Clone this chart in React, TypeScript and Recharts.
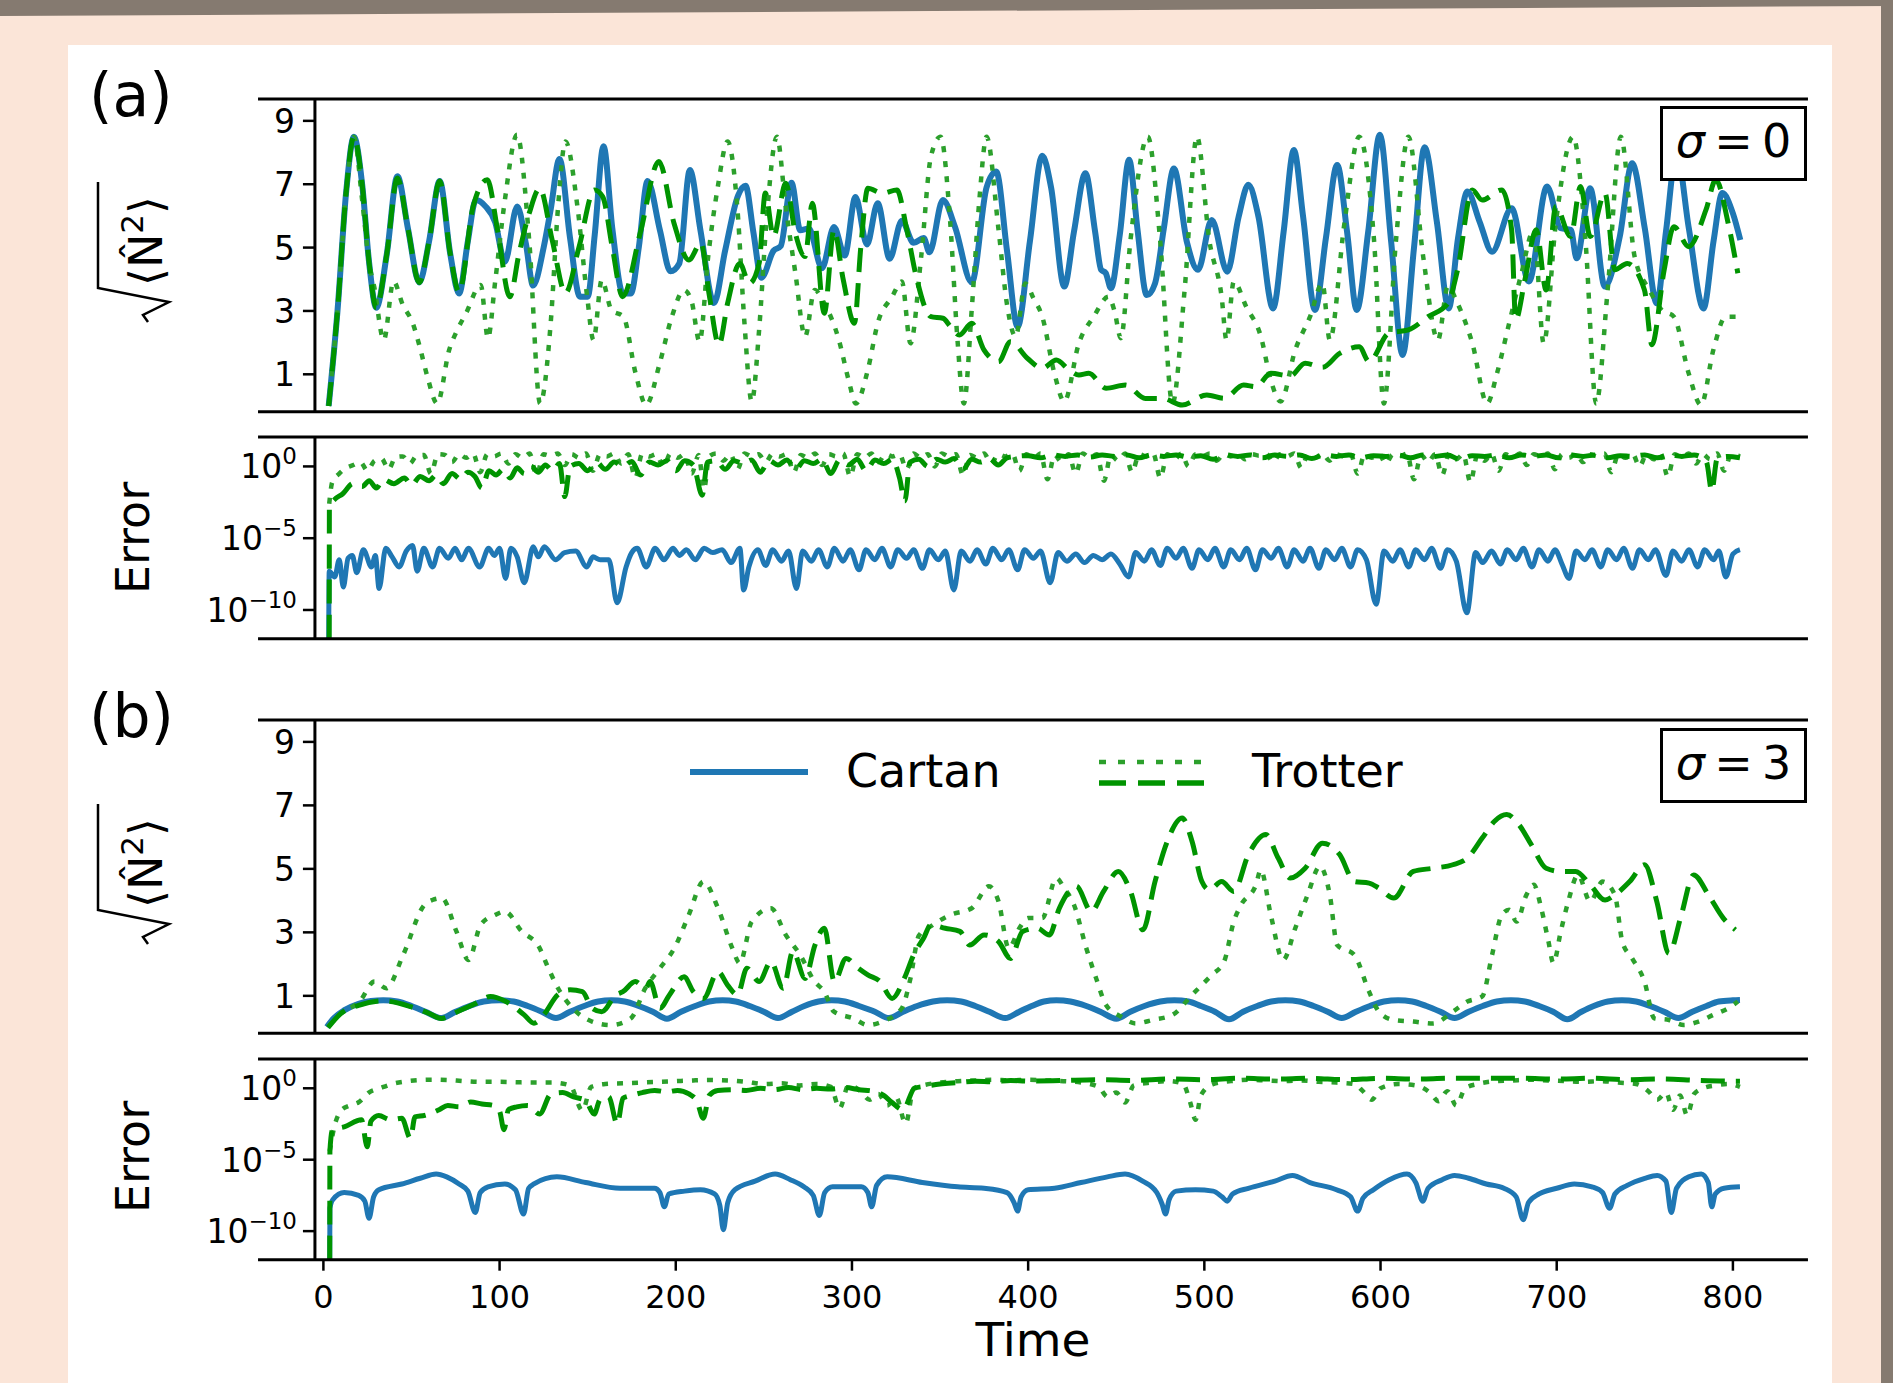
import React from "react";
import { LineChart, Line, XAxis, YAxis, ReferenceLine, Legend } from "recharts";

// ---- data: [time, value] pairs ----
// (a) sigma = 0, sqrt(<N^2>)
const cartanA = [[3,0.0],[8,3.0],[13,6.8],[17.3,8.5],[22,7.0],[26,4.5],[30,3.1],[36,4.8],[42,7.25],[48,5.6],[54.4,3.9],[60,5.2],[66,7.1],[72,4.8],[77,3.55],[82,5.2],[86.5,6.5],[92,6.3],[97.5,5.8],[103,4.55],[110,6.3],[115,5.1],[119,3.8],[125,5.0],[129,6.2],[134,7.8],[140,5.3],[145.6,3.45],[150,3.45],[154,5.4],[159,8.2],[164,5.6],[170,3.55],[174.5,3.55],[179,5.0],[184,7.1],[191,5.55],[197,4.25],[202,4.5],[208,7.45],[214,5.55],[221.7,3.25],[228,4.9],[235.4,6.65],[239.6,6.95],[244,5.5],[248.6,4.05],[255.5,4.9],[259.6,5.05],[265.7,7.05],[270.6,5.55],[275.5,5.6],[283,4.35],[289.8,5.65],[295.9,4.75],[302,6.6],[308.5,5.1],[314.6,6.4],[321.4,4.65],[328.3,5.85],[335,5.15],[340.7,5.3],[344,4.85],[351.6,6.5],[358.5,5.65],[368,3.9],[376.4,6.9],[381.9,7.4],[388,4.9],[394,2.5],[401,5.2],[408,7.9],[413,6.9],[420.5,3.77],[426,5.5],[432.5,7.35],[438,5.5],[441.4,4.3],[444,4.2],[447,3.72],[452,5.4],[457.3,7.77],[462,5.6],[467.3,3.5],[472,3.87],[477,5.6],[482.7,7.5],[490.2,5.15],[496.4,4.3],[504.2,5.87],[513,4.24],[519.5,5.98],[525,6.98],[530.7,5.98],[539,3.08],[545,5.5],[550.8,8.08],[556,6.0],[562.8,3.03],[569,5.3],[575.4,7.61],[581,5.5],[586.5,3.03],[593,5.5],[599.6,8.56],[606,5.2],[612.5,1.61],[619,5.0],[625,8.17],[632,5.8],[638.7,3.08],[644,5.3],[649.3,6.77],[656.2,5.82],[663.3,4.87],[674.4,6.24],[684.2,3.93],[694.5,6.93],[702.3,5.61],[708,5.56],[711.3,4.66],[719,6.87],[727.3,3.77],[735.8,5.35],[742.8,7.66],[750,5.6],[756.8,3.24],[762,5.5],[768,8.0],[775,5.6],[783.3,3.08],[789,5.2],[794,6.72],[800,6.08],[804.2,5.24]];
const trotterDotA = [[3,0.0],[8,3.0],[13,6.8],[17.3,8.5],[22,6.5],[26,4.5],[28.8,3.77],[34.3,2.08],[39.8,3.93],[45,3.2],[50.8,2.6],[55,1.8],[59,0.93],[64.6,0.08],[71.4,1.77],[76,2.4],[81,2.93],[89.3,3.82],[93.4,2.14],[97.5,3.93],[103,6.5],[109.9,8.56],[116.8,5.24],[123,0.08],[129,2.61],[133.2,6.29],[137.4,8.35],[144.2,6.29],[149.7,3.45],[153.3,2.08],[158,3.98],[163.5,3.03],[170.3,2.82],[177.2,1.03],[183.2,0.03],[190.9,1.35],[197.8,2.82],[204.7,3.66],[209,3.3],[213.5,2.03],[218.4,4.72],[223.9,6.93],[229.4,8.35],[234.9,6.29],[239,2.61],[243.1,0.14],[247.3,2.4],[251.4,5.77],[257.4,8.5],[262.4,6.29],[267.9,4.19],[273.4,2.19],[278.8,3.66],[284.3,3.24],[292.6,2.08],[298.1,0.82],[302.2,0.08],[309,1.14],[314.6,2.61],[322.8,3.45],[328.3,3.93],[333.2,1.98],[339.3,4.72],[344.8,7.87],[350.3,8.5],[355.8,5.77],[359.9,2.08],[363.5,0.08],[368.1,3.14],[372.3,6.5],[376.4,8.5],[383.2,5.56],[388,3.2],[392.9,2.19],[398.4,3.87],[403,3.4],[408,2.82],[414.9,1.03],[420.5,0.14],[428.8,1.98],[437.2,2.82],[445.6,3.45],[449,3.0],[452.6,2.14],[458.1,5.24],[467.9,8.5],[474.9,5.24],[481.9,0.08],[488.8,3.66],[495.8,8.5],[502.8,5.24],[509.8,3.45],[512.6,2.08],[516.7,3.93],[523.7,3.14],[532.1,2.19],[537.7,0.82],[543.3,0.14],[551.6,1.77],[560,2.82],[567,3.87],[571.2,2.08],[579.5,5.77],[587.9,8.5],[596.3,5.24],[601.9,0.08],[608.8,5.24],[615.8,8.5],[624.2,4.72],[632.6,2.08],[638.2,3.77],[643.7,3.24],[652.1,1.98],[660.5,0.08],[666.1,1.03],[673,2.61],[680,4.19],[687,5.56],[692.6,1.98],[699.5,5.77],[709.3,8.5],[716.3,5.24],[722.4,0.08],[728.9,3.66],[736.4,8.5],[744.2,4.72],[752.6,3.66],[759.6,3.03],[766.5,2.82],[774.9,1.03],[781.9,0.03],[788.9,1.77],[795.9,2.82],[802.8,2.82]];
const trotterDashA = [[3,0.0],[8,3.0],[13,6.8],[17.3,8.5],[22,7.0],[26,4.5],[30,3.1],[36,4.8],[42,7.2],[48,5.6],[54.4,3.9],[60,5.2],[66,7.1],[72,4.8],[77,3.6],[85,6.3],[93,7.14],[99,5.5],[105.8,3.45],[111,4.8],[116.8,6.08],[122.8,6.87],[130,5.2],[137.4,3.56],[145,5.0],[153.8,6.82],[158.5,6.61],[164,5.0],[169.8,3.45],[180,5.5],[190.4,7.72],[199,5.77],[207.4,4.61],[214.3,5.14],[219,3.5],[224.5,1.93],[229.4,3.24],[236.3,4.5],[241.8,3.87],[247.3,4.5],[250.8,6.72],[255.5,5.35],[262.4,7.03],[267.9,5.45],[273.4,4.72],[277.5,6.4],[284.3,2.93],[289.8,5.56],[295,4.0],[301.4,2.61],[305,5.0],[309,6.87],[317.3,6.72],[325.5,6.82],[331,5.6],[336.5,4.08],[344.8,2.82],[351.6,2.77],[356,2.5],[361,2.24],[368,2.61],[374.9,1.77],[383.2,1.4],[390,2.03],[399.7,1.5],[408,1.19],[416,1.45],[423.2,1.14],[428.8,0.98],[434.4,1.03],[444.2,0.56],[455.3,0.66],[466.5,0.24],[476.3,0.24],[487.4,0.03],[501.4,0.35],[511.2,0.24],[522.3,0.66],[529.3,0.61],[537.7,1.03],[548.8,0.95],[557.2,1.35],[567,1.22],[576.8,1.66],[587.9,1.87],[593.5,1.4],[604.7,2.3],[615.8,2.4],[627,2.82],[638.2,3.24],[643.7,4.29],[652.1,6.82],[657.7,6.5],[668.8,6.82],[674.4,5.56],[676.7,2.72],[682,4.0],[688.4,5.56],[694,3.66],[699.5,6.3],[707.9,5.35],[713.5,6.93],[719,5.35],[727.4,6.72],[733,4.3],[740,4.5],[749.8,3.66],[754,1.93],[761,4.3],[766.5,5.66],[774.9,5.03],[784.7,6.19],[790.3,7.14],[797.3,5.77],[802.8,4.19]];

// (a) error, stored as log10 exponents
const cartanErrA = [[3,-12],[3.3,-7.3],[6.4,-7.7],[9,-6.5],[11.3,-8.4],[14,-6.4],[16.4,-6.2],[18.9,-7.4],[22.7,-5.8],[27.3,-7.0],[29.5,-6.2],[31.6,-8.5],[35.4,-5.7],[39,-6.3],[43,-7.0],[47,-5.9],[50.6,-5.5],[53.2,-7.3],[57,-5.7],[62,-7.0],[65.9,-5.7],[70.9,-6.4],[74.7,-5.7],[78.5,-6.5],[82.3,-5.7],[88.7,-7.0],[93.8,-5.7],[97,-6.2],[100,-5.7],[103.4,-7.8],[106.4,-5.7],[110,-6.3],[114,-8.1],[119.1,-5.6],[122,-6.3],[125.4,-5.6],[131.8,-6.5],[136.9,-6.0],[143.2,-5.9],[149.5,-7.0],[153,-6.3],[157.1,-6.5],[162,-6.5],[166.7,-9.5],[171.8,-7.0],[175,-6.0],[178.1,-5.7],[183.2,-7.0],[188.3,-5.7],[193.3,-6.5],[198.4,-5.7],[202,-6.2],[206,-5.8],[211.1,-6.5],[216.1,-5.7],[221,-6.0],[226.3,-5.8],[231.4,-6.7],[236.4,-5.7],[238.5,-8.6],[241.5,-7.0],[246.6,-5.8],[251,-6.9],[255,-5.8],[260,-6.6],[264,-5.9],[268.5,-8.5],[272,-5.9],[277,-6.6],[281,-5.8],[286,-7.0],[290,-5.7],[295,-6.6],[299,-5.8],[304,-7.2],[308,-5.8],[313,-6.5],[317,-5.7],[322,-7.0],[326,-5.8],[331,-6.4],[335,-5.8],[340,-7.1],[344,-5.8],[349,-6.5],[353,-5.9],[357.8,-8.6],[362,-5.9],[367,-6.6],[371,-5.8],[376,-6.8],[380,-5.7],[385,-6.5],[389,-5.8],[394,-7.2],[398,-5.8],[403,-6.4],[407,-5.9],[412.5,-8.1],[417,-6.0],[422,-6.6],[427,-6.1],[432,-6.7],[437,-6.2],[442,-6.5],[447,-6.1],[452,-6.8],[457,-7.7],[461,-6.0],[466,-6.6],[470,-5.8],[475,-6.9],[479,-5.7],[484,-6.4],[488,-5.7],[493,-7.1],[497,-5.8],[502,-6.5],[506,-5.7],[511,-7.0],[515,-5.8],[520,-6.5],[524,-5.7],[529,-7.2],[533,-5.8],[538,-6.4],[542,-5.7],[547,-7.0],[551,-5.8],[556,-6.6],[560,-5.7],[565,-7.1],[569,-5.8],[574,-6.5],[578,-5.7],[583,-7.0],[587,-5.8],[592,-6.5],[597.5,-9.6],[602,-5.9],[607,-6.6],[611,-5.8],[616,-7.0],[620,-5.8],[625,-6.5],[629,-5.7],[634,-7.1],[638,-5.8],[643,-6.6],[649,-10.2],[654,-6.0],[658,-6.7],[663,-5.9],[668,-6.8],[672,-5.8],[677,-6.5],[681,-5.7],[686,-7.0],[690,-5.8],[695,-6.6],[699,-5.8],[703,-6.8],[707,-7.8],[711,-5.9],[716,-6.5],[720,-5.8],[725,-7.0],[729,-5.8],[734,-6.5],[738,-5.7],[743,-7.1],[747,-5.8],[752,-6.5],[756,-5.8],[762,-7.6],[766,-5.9],[771,-6.6],[775,-5.8],[780,-7.0],[784,-5.8],[789,-6.5],[792,-5.9],[796,-7.7],[800,-6.1],[804,-5.8]];
const trotterDotErrA = [[3.3,-2.6],[5,-1.1],[9,-0.5],[13,-0.1],[17,0.1],[21,0.3],[25,-0.3],[29,0.4],[33,0.55],[37,-0.2],[41,0.65],[45,0.7],[49,0.2],[53,0.75],[57,0.8],[61,-0.5],[65,0.85],[69,0.8],[73,0.3],[77,0.85],[81,0.6],[85,0.9],[89,-0.4],[93,0.85],[97,0.7],[101,0.9],[105,0.2],[109,0.85],[113,0.6],[117,0.9],[121,-0.6],[125,0.85],[129,0.75],[133,0.9],[137,0.1],[141,0.85],[145,0.6],[149,0.9],[153,-0.3],[157,0.85],[161,0.7],[165,0.9],[169,0.2],[173,0.85],[177,-0.8],[181,0.9],[185,0.7],[189,0.85],[193,0.0],[197,0.9],[201,0.6],[205,0.85],[209,-0.5],[213,0.8],[216,-1.6],[219,0.7],[223,0.9],[227,0.4],[231,0.85],[235,-0.2],[239,0.9],[243,0.7],[247,0.85],[251,0.3],[255,0.9],[259,0.7],[263,0.85],[267,-0.4],[271,0.8],[275,0.6],[279,0.9],[283,0.1],[287,0.85],[291,0.7],[295,0.9],[299,-0.7],[303,0.85],[307,0.6],[311,0.9],[315,0.3],[319,0.85],[323,0.7],[327,0.85],[331,-0.2],[335,0.9],[339,0.6],[343,0.85],[347,0.0],[351,0.9],[355,0.7],[359,0.85],[363,-0.6],[367,0.8],[371,0.6],[375,0.9],[379,0.2],[383,0.85],[387,0.7],[391,0.9],[395,-0.3],[399,0.85],[403,0.5],[407,0.9],[411,-0.9],[415,0.8],[419,0.3],[423,0.85],[427,-0.5],[431,0.9],[435,0.6],[439,0.85],[443,-1.0],[447,0.8],[451,0.4],[455,0.9],[459,-0.4],[463,0.85],[467,0.7],[471,0.9],[475,-0.8],[479,0.85],[483,0.5],[487,0.9],[491,0.0],[495,0.85],[499,0.7],[503,0.9],[507,0.4],[511,0.85],[515,0.7],[519,0.9],[523,0.5],[527,0.85],[531,0.75],[535,0.9],[539,0.3],[543,0.85],[547,0.7],[551,0.9],[555,-0.1],[559,0.85],[563,0.6],[567,0.9],[571,0.4],[575,0.85],[579,0.7],[583,0.9],[587,-0.5],[591,0.85],[595,0.6],[599,0.9],[603,0.2],[607,0.85],[611,0.7],[615,0.9],[619,-0.9],[623,0.8],[627,0.3],[631,0.85],[635,-0.6],[639,0.9],[643,0.5],[647,0.85],[651,-1.1],[655,0.8],[659,0.4],[663,0.9],[667,-0.3],[671,0.85],[675,0.6],[679,0.9],[683,0.1],[687,0.85],[691,0.7],[695,0.9],[699,-0.2],[703,0.85],[707,0.6],[711,0.9],[715,0.3],[719,0.85],[723,0.7],[727,0.9],[731,-0.4],[735,0.85],[739,0.6],[743,0.9],[747,0.0],[751,0.85],[755,0.5],[759,0.9],[763,-0.7],[767,0.85],[771,0.6],[775,0.9],[779,0.2],[783,0.85],[787,0.5],[791,0.9],[795,-0.3],[799,0.85],[804,0.7]];
const trotterDashErrA = [[3.3,-12],[3.4,-2.8],[6.4,-2.3],[11,-1.9],[16.8,-1.2],[22,-1.4],[26,-1.0],[30,-1.5],[34,-0.9],[40,-1.2],[46,-0.8],[50,-1.3],[55,-0.7],[60,-1.0],[64,-0.6],[68,-1.2],[73,-0.5],[78,-0.9],[82,-0.4],[86,-0.7],[90,-1.5],[94,-0.3],[98,-0.6],[102,-0.2],[106,-0.8],[110,-0.1],[114,-0.5],[118,0.0],[122,-0.4],[126,0.1],[130,-0.3],[134,0.2],[137,-2.1],[140,0.0],[145,0.2],[150,-0.3],[155,0.3],[160,-0.2],[165,0.3],[170,0.0],[175,0.35],[180,-0.6],[185,0.3],[190,0.1],[195,0.4],[200,-0.3],[205,0.4],[210,0.1],[215,-2.0],[218,0.3],[223,0.4],[228,-0.2],[233,0.4],[238,0.2],[243,0.45],[248,-0.4],[253,0.4],[258,0.1],[263,0.45],[268,-0.2],[273,0.4],[278,0.2],[283,0.5],[288,-0.5],[293,0.45],[298,0.1],[303,0.5],[308,-0.3],[313,0.45],[318,0.2],[323,0.5],[327,-0.8],[330,-2.4],[333,0.3],[338,0.5],[343,0.0],[348,0.5],[353,0.3],[358,0.55],[363,-0.2],[368,0.5],[373,0.3],[378,0.55],[383,0.1],[388,0.6],[393,0.7],[400,0.75],[407,0.6],[414,0.8],[421,0.7],[428,0.8],[435,0.65],[442,0.8],[449,0.7],[456,0.8],[463,0.6],[470,0.8],[477,0.7],[484,0.8],[491,0.65],[498,0.75],[505,0.5],[512,0.8],[519,0.7],[526,0.8],[533,0.6],[540,0.8],[547,0.7],[554,0.8],[561,0.55],[568,0.8],[575,0.7],[582,0.8],[589,0.6],[596,0.75],[603,0.7],[610,0.8],[617,0.6],[624,0.8],[631,0.7],[638,0.8],[645,0.5],[652,0.75],[659,0.7],[666,0.8],[673,0.6],[680,0.8],[687,0.7],[694,0.8],[701,0.6],[708,0.8],[715,0.7],[722,0.8],[729,0.6],[736,0.75],[743,0.7],[750,0.8],[757,0.6],[764,0.8],[771,0.7],[778,0.8],[785,0.3],[788,-1.7],[791,0.5],[797,0.7],[804,0.6]];

// (b) sigma = 3, sqrt(<N^2>)
const cartanB = [[2,0.02],[6,0.3],[12,0.55],[20,0.75],[27,0.84],[34,0.86],[42,0.82],[50,0.68],[58,0.5],[67,0.3],[75,0.5],[83,0.68],[91,0.82],[100,0.86],[108,0.82],[116,0.68],[124,0.5],[132,0.3],[140,0.5],[148,0.68],[156,0.82],[163.5,0.86],[171,0.82],[179,0.68],[187,0.5],[195,0.28],[203,0.5],[211,0.68],[219,0.82],[226.6,0.86],[234,0.82],[242,0.68],[250,0.5],[258,0.3],[266,0.5],[273,0.68],[281,0.82],[288.5,0.86],[296,0.82],[304,0.68],[313,0.5],[321,0.3],[329,0.5],[337,0.68],[346,0.82],[354,0.86],[362,0.82],[370,0.68],[378,0.5],[387,0.3],[395,0.5],[402,0.68],[409,0.82],[416,0.86],[424,0.82],[433,0.68],[441,0.5],[450,0.28],[458,0.5],[466,0.68],[475,0.82],[483,0.86],[491,0.82],[498,0.68],[506,0.5],[514,0.26],[522,0.5],[530,0.68],[538,0.82],[546,0.86],[554,0.82],[562,0.68],[570,0.5],[578,0.3],[586,0.5],[594,0.68],[602,0.82],[610,0.86],[618,0.82],[626,0.68],[634,0.5],[642,0.3],[650,0.5],[658,0.68],[666,0.82],[674,0.86],[682,0.82],[690,0.68],[698,0.5],[706,0.26],[714,0.5],[721,0.68],[729,0.82],[737,0.86],[745,0.82],[753,0.68],[761,0.5],[769,0.3],[777,0.5],[785,0.68],[792,0.82],[800,0.86],[804,0.87]];
const trotterDotB = [[2.7,0.03],[10,0.45],[20.6,0.82],[29,1.45],[35.7,1.24],[45.3,2.29],[57.4,3.87],[61.8,4.02],[67.3,4.08],[75.5,3.03],[82.4,2.13],[89.3,3.24],[97.5,3.55],[103,3.66],[112.6,3.03],[122.3,2.55],[127.7,1.87],[133.2,1.24],[141.5,0.61],[152.5,0.19],[163.5,0.08],[174.5,0.29],[182.7,1.24],[191,1.87],[199.2,2.5],[207.4,3.55],[215.7,4.6],[224,3.76],[232.1,2.5],[236.3,2.03],[243.1,3.34],[254,3.76],[262.4,2.92],[270.6,2.29],[278.8,1.45],[284.3,1.13],[289.8,0.5],[300.8,0.29],[309,0.08],[317.3,0.19],[328.3,0.61],[333,1.5],[338,2.9],[345,3.2],[355.8,3.55],[368,3.76],[377.7,4.45],[383.2,3.97],[389,2.5],[395,3.13],[400,3.45],[408,3.45],[416,4.71],[420.5,4.39],[426,3.87],[433,2.5],[438.6,1.55],[444.2,0.71],[452.6,0.35],[461,0.13],[470.7,0.24],[481.9,0.4],[493,1.03],[504.2,1.66],[511.2,2.08],[516.7,3.34],[520.9,3.87],[529.3,4.5],[532,4.97],[537.7,3.55],[544.7,2.13],[551.6,3.13],[558.6,4.18],[565.6,5.08],[571.2,4.18],[575.4,2.6],[585.1,2.29],[593.5,1.13],[599.1,0.5],[607.5,0.24],[618.6,0.19],[629.8,0.13],[641,0.5],[649.3,0.82],[657.7,0.98],[663.3,2.29],[668.8,3.55],[673,3.71],[677.2,3.34],[682.8,4.18],[687,4.5],[691.2,3.76],[695.3,2.71],[698.1,2.03],[702.3,3.03],[706.5,3.97],[712.1,4.81],[719,3.97],[726,4.6],[733,4.18],[737.2,2.71],[742.8,2.18],[749.8,1.45],[755.4,0.29],[763.7,0.24],[772.1,0.08],[780.5,0.19],[788.9,0.4],[797.3,0.61],[802.8,0.82]];
const trotterDashB = [[2.7,0.0],[10,0.45],[20,0.7],[34,0.84],[50,0.65],[60,0.45],[67,0.29],[76,0.5],[86,0.75],[94.8,0.98],[103,0.84],[114,0.4],[119.5,0.14],[125,0.4],[133,1.03],[140,1.19],[147,1.13],[152.5,0.61],[158,0.5],[166,1.03],[170,1.13],[177,1.45],[183,1.24],[185.4,1.45],[191,0.61],[196.4,1.03],[204.7,1.6],[210,1.13],[215.7,0.92],[224,1.76],[229.4,1.34],[235,1.03],[240.4,1.87],[247.3,1.45],[254,2.08],[261,1.24],[266.5,2.4],[273.4,1.55],[279,2.6],[284.3,3.13],[290,1.45],[296.7,2.18],[303.6,1.87],[309,1.66],[316,1.45],[322.8,0.92],[329.7,1.55],[335,2.29],[340.7,2.82],[344.8,3.24],[353,3.13],[361.3,3.03],[366.8,2.6],[375,2.92],[383.2,2.71],[390,2.18],[396.9,3.03],[405.2,3.13],[412,2.92],[417.7,3.76],[427.4,4.45],[435.8,3.66],[442.8,4.29],[451.2,4.92],[458.1,4.29],[465.1,3.08],[472,4.6],[479,5.87],[487.4,6.6],[493,5.87],[498.6,4.6],[502.8,4.34],[509.8,4.6],[516.7,4.29],[525,5.45],[534.9,6.08],[541.9,5.34],[548.8,4.71],[557.2,5.02],[567,5.81],[576.8,5.45],[585.1,4.6],[593.5,4.55],[599.1,4.39],[607.5,4.08],[618.6,4.92],[629.8,5.02],[641,5.13],[649.3,5.34],[657.7,5.97],[664.7,6.5],[671.6,6.71],[678.6,6.39],[685.6,5.76],[694,5.02],[702.3,4.92],[710.7,4.92],[719,4.5],[727.4,4.02],[733,4.18],[741.4,4.6],[749.8,5.13],[756.8,3.97],[763.7,2.34],[770.7,3.55],[777.7,4.81],[786.1,4.18],[794.5,3.45],[801.4,3.08]];

// (b) error, log10 exponents
const cartanErrB = [[3.6,-12],[3.7,-8.4],[5.3,-7.8],[11.8,-7.3],[20,-7.5],[23.5,-7.9],[25.9,-9.1],[28.5,-7.6],[31.5,-7.1],[44.5,-6.7],[55,-6.3],[64,-6.0],[70,-6.2],[77,-6.7],[82,-7.2],[86.2,-8.7],[89,-7.3],[93.4,-6.9],[103,-6.7],[109,-7.1],[113.6,-8.8],[116.5,-7.0],[119.5,-6.7],[132.5,-6.2],[148.8,-6.6],[168.4,-7.0],[187.9,-7.0],[191,-7.3],[193.5,-8.3],[196,-7.4],[205,-7.2],[214,-7.1],[222,-7.4],[225,-8.2],[227,-9.9],[229.5,-8.0],[233.6,-7.1],[245,-6.5],[256.4,-6.0],[265,-6.4],[272.7,-6.9],[278,-7.5],[281.5,-8.9],[284.5,-7.3],[289,-6.9],[305.3,-6.9],[309,-7.3],[311.2,-8.3],[314,-6.8],[320,-6.2],[340,-6.6],[360,-6.9],[375,-7.0],[388,-7.3],[392,-8.0],[394,-8.6],[396,-7.6],[400,-7.1],[415,-7.0],[430,-6.6],[445,-6.2],[455,-6.0],[465,-6.5],[473,-7.3],[476,-8.1],[478,-8.8],[480,-7.8],[484,-7.2],[495,-7.1],[505,-7.2],[510,-7.6],[513,-7.9],[516,-7.4],[525,-7.0],[540,-6.5],[550,-6.1],[560,-6.6],[575,-7.1],[583,-7.6],[587,-8.6],[590,-7.7],[596,-7.1],[605,-6.4],[615,-6.0],[620,-6.6],[624,-7.9],[627,-7.0],[635,-6.4],[642,-6.1],[650,-6.3],[660,-6.7],[670,-7.0],[677,-7.6],[681,-9.2],[684,-8.0],[690,-7.4],[700,-7.0],[710,-6.7],[720,-6.9],[726,-7.3],[730,-8.4],[733,-7.4],[740,-6.8],[750,-6.3],[757,-6.1],[762,-6.5],[765,-8.7],[768,-7.0],[775,-6.2],[782,-6.0],[786,-6.6],[788,-8.3],[790,-7.4],[795,-7.0],[804,-6.9]];
const trotterDotErrB = [[3.6,-4.4],[6,-2.8],[10,-1.56],[15,-1.2],[20,-0.98],[26,-0.28],[32,0.0],[39,0.3],[48,0.5],[55,0.58],[62,0.6],[70,0.58],[80,0.5],[90,0.45],[100,0.45],[110,0.42],[120,0.4],[130,0.4],[140,0.2],[147,-1.56],[152,0.1],[160,0.3],[170,0.35],[180,0.4],[190,0.45],[200,0.5],[210,0.55],[220,0.58],[230,0.55],[240,0.45],[250,0.3],[260,0.35],[270,0.2],[280,0.3],[288,0.1],[293,-1.4],[298,0.2],[305,-0.2],[310,-0.8],[315,-0.4],[320,-1.2],[325,-0.6],[330.5,-2.47],[335,0.0],[340,0.2],[350,0.4],[360,0.5],[370,0.55],[380,0.6],[390,0.55],[400,0.6],[410,0.55],[420,0.5],[430,0.4],[440,0.1],[445,-0.6],[450,-0.3],[455,-1.0],[460,0.2],[470,0.4],[480,0.5],[488,0.3],[492,-1.0],[495,-2.2],[498,-0.5],[505,0.3],[515,0.5],[525,0.6],[535,0.55],[545,0.5],[555,0.55],[565,0.45],[575,0.4],[585,0.3],[590,-0.2],[595,-0.8],[600,0.0],[610,0.3],[620,0.2],[628,-0.3],[633,-0.9],[638,-0.2],[643,-1.2],[648,0.0],[655,0.3],[665,0.5],[675,0.55],[685,0.6],[695,0.55],[705,0.5],[715,0.45],[725,0.5],[735,0.4],[745,0.3],[752,-0.2],[757,-0.8],[762,-0.3],[766,-1.5],[770,-0.5],[774,-1.9],[778,-0.4],[783,0.0],[790,0.2],[797,0.3],[804,0.1]];
const trotterDashErrB = [[3.6,-12],[3.7,-4.35],[5.2,-2.9],[11.8,-2.7],[21.6,-2.2],[24.9,-4.1],[27,-2.3],[31.4,-1.9],[38,-2.2],[44.5,-2.1],[49.4,-3.5],[52,-2.0],[57.5,-1.9],[65.7,-1.5],[70.6,-1.2],[77,-1.3],[83.6,-0.96],[90,-1.1],[96.6,-1.2],[100,-1.6],[102.5,-2.9],[105,-1.5],[109.7,-1.3],[116,-1.2],[122.7,-1.8],[129.2,-0.4],[135.8,-0.3],[142,-0.6],[148.8,-0.85],[153.7,-1.8],[157,-0.8],[161.9,-0.6],[166.8,-2.5],[170,-0.7],[174.9,-0.5],[181,-0.3],[188,-0.15],[195,-0.25],[201,-0.15],[207.5,-0.4],[212,-0.9],[215.6,-2.1],[219,-0.5],[223.8,-0.15],[232,-0.1],[240,-0.15],[248,0.0],[256,-0.1],[264,0.05],[272,-0.1],[280,0.0],[288,-0.05],[296,0.05],[304,-0.1],[312,-0.2],[318,-0.5],[322.4,-0.96],[329,-1.5],[335.5,0.0],[342,0.15],[350,0.3],[360,0.4],[370,0.5],[380,0.45],[390,0.55],[400,0.5],[420,0.55],[440,0.6],[460,0.55],[480,0.65],[500,0.6],[520,0.7],[540,0.65],[560,0.7],[580,0.6],[600,0.7],[620,0.65],[640,0.7],[660,0.7],[680,0.7],[700,0.65],[720,0.7],[740,0.6],[760,0.65],[780,0.55],[800,0.5],[804,0.5]];

const timeTicks = [0, 100, 200, 300, 400, 500, 600, 700, 800];
const normTicks = [1, 3, 5, 7, 9];
const errorTicks = [1e-10, 1e-5, 1];

// ---- styling ----
const FONT = "DejaVu Sans";
const BLUE = "#1f77b4";
const DASH_GREEN = "#009400";
const DOT_GREEN = "#2ca02c";
const PEACH = "#fbe5d8";
const GRAY = "#857a70";

const X_DOMAIN = [-37.1, 842.6];
const SPINE_T = -4.8;
const PLOT_LEFT = 258;
const PLOT_RIGHT = 1808;
const SPINE_OFFSET = ((SPINE_T - X_DOMAIN[0]) / (X_DOMAIN[1] - X_DOMAIN[0])) * (PLOT_RIGHT - PLOT_LEFT);
const NORM_DOMAIN = [-0.18, 9.69];
const LOG_TOP = Math.pow(10, 2.05);
const LOG_DOMAIN = [1e-12, LOG_TOP];

const toPts = (arr) => arr.map(([t, v]) => ({ t, v }));
const toLogPts = (arr) => arr.map(([t, e]) => ({ t, v: Math.pow(10, e) }));

const YTick = ({ x, y, payload, log }) => {
  const sx = x + SPINE_OFFSET;
  const v = payload.value;
  const e = log ? Math.round(Math.log10(v)) : 0;
  return (
    <g>
      <line x1={sx - 12} x2={sx} y1={y} y2={y} stroke="#000" strokeWidth={2.5} />
      {log ? (
        <text x={sx - 18} y={y + 12} textAnchor="end" fontSize={33} fontFamily={FONT} fill="#000">
          10
          <tspan dy={-14} fontSize={23}>{`${e < 0 ? "\u2212" : ""}${Math.abs(e)}`}</tspan>
        </text>
      ) : (
        <text x={sx - 20} y={y + 12} textAnchor="end" fontSize={33} fontFamily={FONT} fill="#000">
          {v}
        </text>
      )}
    </g>
  );
};

const XTick = ({ x, y, payload }) => (
  <text x={x} y={y + 37} textAnchor="middle" fontSize={32} fontFamily={FONT} fill="#000">
    {payload.value}
  </text>
);

const LegendBox = () => (
  <svg width={800} height={70} style={{ overflow: "visible" }}>
    <line x1={10} x2={128} y1={37} y2={37} stroke={BLUE} strokeWidth={6} />
    <text x={166} y={52} fontSize={46} fontFamily={FONT} fill="#000">Cartan</text>
    <line x1={419} x2={526} y1={27} y2={27} stroke={DOT_GREEN} strokeWidth={4.5} strokeDasharray="7 12" />
    <line x1={419} x2={526} y1={48} y2={48} stroke={DASH_GREEN} strokeWidth={5.5} strokeDasharray="27 12" />
    <text x={572} y={52} fontSize={46} fontFamily={FONT} fill="#000">Trotter</text>
  </svg>
);

function Panel({ plotTop, plotBottom, log, blue, dot, dash, labels, legend }) {
  const mTop = 20;
  const xh = labels ? 70 : 14;
  const height = plotBottom - plotTop + mTop + xh;
  const bw = log ? 5 : 6;
  return (
    <div style={{ position: "absolute", left: 0, top: plotTop - mTop }}>
      <LineChart width={1893} height={height} margin={{ top: mTop, right: 1893 - PLOT_RIGHT, bottom: 0, left: 0 }}>
        <XAxis
          dataKey="t"
          type="number"
          domain={X_DOMAIN}
          allowDataOverflow
          ticks={timeTicks}
          height={xh}
          tickSize={11}
          tickMargin={0}
          axisLine={{ stroke: "#000", strokeWidth: 3 }}
          tickLine={{ stroke: "#000", strokeWidth: 2.5 }}
          tick={labels ? <XTick /> : false}
        />
        <YAxis
          type="number"
          dataKey="v"
          scale={log ? "log" : "linear"}
          domain={log ? LOG_DOMAIN : NORM_DOMAIN}
          allowDataOverflow
          ticks={log ? errorTicks : normTicks}
          width={PLOT_LEFT}
          axisLine={false}
          tickLine={false}
          tickSize={0}
          tickMargin={0}
          tick={<YTick log={log} />}
        />
        <ReferenceLine y={log ? LOG_TOP : NORM_DOMAIN[1]} stroke="#000" strokeWidth={3} />
        <ReferenceLine x={SPINE_T} stroke="#000" strokeWidth={3} />
        <Line data={blue} dataKey="v" type="monotone" stroke={BLUE} strokeWidth={bw} dot={false} isAnimationActive={false} />
        <Line data={dot} dataKey="v" type="monotone" stroke={DOT_GREEN} strokeWidth={4.5} strokeDasharray="6 9" dot={false} isAnimationActive={false} />
        <Line data={dash} dataKey="v" type="monotone" stroke={DASH_GREEN} strokeWidth={5} strokeDasharray="24 11" dot={false} isAnimationActive={false} />
        {legend && (
          <Legend
            verticalAlign="middle"
            align="center"
            layout="horizontal"
            wrapperStyle={{ position: "absolute", left: 680, top: 35, width: 800, height: 70 }}
            content={() => <LegendBox />}
          />
        )}
      </LineChart>
    </div>
  );
}

const SqrtLabel = ({ x, y }) => (
  <g transform={`translate(${x},${y}) rotate(-90)`}>
    <path d="M3,50 L10,45 L23,71 L37,0 L143,0" fill="none" stroke="#000" strokeWidth={2.5} />
    <text x={39} y={64} fontSize={46} fontFamily={FONT} fill="#000">
      {"\u27e8N\u0302"}
      <tspan dy={-19} fontSize={31}>2</tspan>
      <tspan dy={19}>{"\u27e9"}</tspan>
    </text>
  </g>
);

const SigmaBox = ({ top, height, value }) => (
  <div
    style={{
      position: "absolute",
      left: 1660,
      top,
      width: 147,
      height,
      boxSizing: "border-box",
      border: "3px solid #000",
      background: "#fff",
      display: "flex",
      alignItems: "center",
      justifyContent: "center",
      fontSize: 46,
      fontFamily: FONT,
      paddingBottom: 6,
    }}
  >
    <span style={{ fontStyle: "italic" }}>σ</span>
    {"\u2009=\u2009"}
    {value}
  </div>
);

export default function App() {
  return (
    <div style={{ position: "absolute", left: 0, top: 0, width: 1893, height: 1383, background: PEACH, overflow: "hidden", fontFamily: FONT }}>
      <svg width={1893} height={1383} style={{ position: "absolute", left: 0, top: 0 }}>
        <polygon points="0,0 1893,0 1893,6 0,16" fill={GRAY} />
        <rect x={1881} y={0} width={12} height={1383} fill={GRAY} />
        <rect x={68} y={45} width={1764} height={1338} fill="#fff" />
      </svg>

      <Panel plotTop={99} plotBottom={411.7} blue={toPts(cartanA)} dot={toPts(trotterDotA)} dash={toPts(trotterDashA)} />
      <Panel plotTop={437.3} plotBottom={639} log blue={toLogPts(cartanErrA)} dot={toLogPts(trotterDotErrA)} dash={toLogPts(trotterDashErrA)} />
      <Panel plotTop={720} plotBottom={1033.3} legend blue={toPts(cartanB)} dot={toPts(trotterDotB)} dash={toPts(trotterDashB)} />
      <Panel plotTop={1059.3} plotBottom={1260} log labels blue={toLogPts(cartanErrB)} dot={toLogPts(trotterDotErrB)} dash={toLogPts(trotterDashErrB)} />

      <svg width={1893} height={1383} style={{ position: "absolute", left: 0, top: 0, pointerEvents: "none" }}>
        <text x={89} y={116} fontSize={60} fontFamily={FONT} fill="#000">(a)</text>
        <text x={89} y={737} fontSize={60} fontFamily={FONT} fill="#000">(b)</text>
        <SqrtLabel x={98} y={325} />
        <SqrtLabel x={98} y={947} />
        <text transform="translate(149,538) rotate(-90)" textAnchor="middle" fontSize={46} fontFamily={FONT} fill="#000">Error</text>
        <text transform="translate(149,1157) rotate(-90)" textAnchor="middle" fontSize={46} fontFamily={FONT} fill="#000">Error</text>
        <text x={1033} y={1356} textAnchor="middle" fontSize={47} fontFamily={FONT} fill="#000">Time</text>
      </svg>

      <SigmaBox top={106} height={75} value="0" />
      <SigmaBox top={728} height={75} value="3" />
    </div>
  );
}
